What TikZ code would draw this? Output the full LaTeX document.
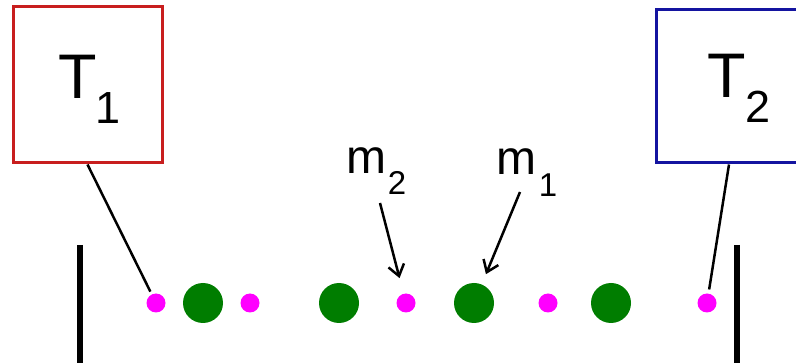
\documentclass[tikz,border=0pt]{standalone}
\usepackage{fontspec}
\setmainfont{Liberation Sans}
\usetikzlibrary{arrows.meta}
\definecolor{boxred}{RGB}{200,30,30}
\definecolor{boxblue}{RGB}{20,20,160}
\definecolor{dotgreen}{RGB}{0,125,0}
\definecolor{dotmag}{RGB}{255,0,255}
\tikzset{
  tbox/.style={draw, line width=3pt, rectangle, inner sep=0pt},
  bigtxt/.style={inner sep=0pt, anchor=base, font=\fontsize{63}{70}\selectfont},
  subtxt/.style={inner sep=0pt, anchor=base, font=\fontsize{45}{50}\selectfont},
  mtxt/.style={inner sep=0pt, anchor=base, font=\fontsize{48}{52}\selectfont},
  msub/.style={inner sep=0pt, anchor=base, font=\fontsize{33}{36}\selectfont},
  small/.style={circle, fill=dotmag, inner sep=0pt, minimum size=19pt},
  big/.style={circle, fill=dotgreen, inner sep=0pt, minimum size=40pt},
  wall/.style={line width=6pt},
  link/.style={line width=2.5pt},
  pointer/.style={line width=2.5pt, -{Straight Barb[length=11pt,width=16pt,line width=2.5pt]}}
}
\begin{document}
\begin{tikzpicture}[x=1pt,y=-1pt]
\useasboundingbox (0,0) rectangle (796,363);
\clip (0,0) rectangle (796,363);
\fill[white] (0,0) rectangle (796,363);
% boxes
\node[tbox, draw=boxred, minimum width=149pt, minimum height=156pt] (T1box) at (87.5,85) {};
\node[tbox, draw=boxblue, minimum width=154pt, minimum height=153pt] (T2box) at (733,86.5) {};
\node[bigtxt] (T1T) at (78,99) {T};
\node[subtxt] (T1s) at (108.5,124) {1};
\node[bigtxt] (T2T) at (727,98) {T};
\node[subtxt] (T2s) at (758,123) {2};
% walls
\coordinate (wl1) at (80,245);
\coordinate (wl2) at (80,370);
\coordinate (wr1) at (737,245);
\coordinate (wr2) at (737,370);
\draw[wall] (wl1) -- (wl2);
\draw[wall] (wr1) -- (wr2);
% particles
\node[small] (p1) at (156,303) {};
\node[big]   (g1) at (203,303) {};
\node[small] (p2) at (250,303) {};
\node[big]   (g2) at (339,303) {};
\node[small] (p3) at (406,303) {};
\node[big]   (g3) at (474,303) {};
\node[small] (p4) at (548,303) {};
\node[big]   (g4) at (611,303) {};
\node[small] (p5) at (707,303) {};
% links from boxes
\draw[link, shorten >=3pt] (T1box.south) -- (p1);
\draw[link, shorten >=4pt] ([xshift=-4pt]T2box.south) -- (p5);
% labels
\node[mtxt] (m2) at (366.5,174) {m};
\node[msub] (m2s) at (397,195) {2};
\node[mtxt] (m1) at (516.5,175) {m};
\node[msub] (m1s) at (548,197) {1};
\coordinate (a2) at (380,203);
\coordinate (a1) at (520,192);
\draw[pointer, shorten >=16pt] (a2) -- (p3);
\draw[pointer, shorten >=11pt] (a1) -- (g3);
\end{tikzpicture}
\end{document}
